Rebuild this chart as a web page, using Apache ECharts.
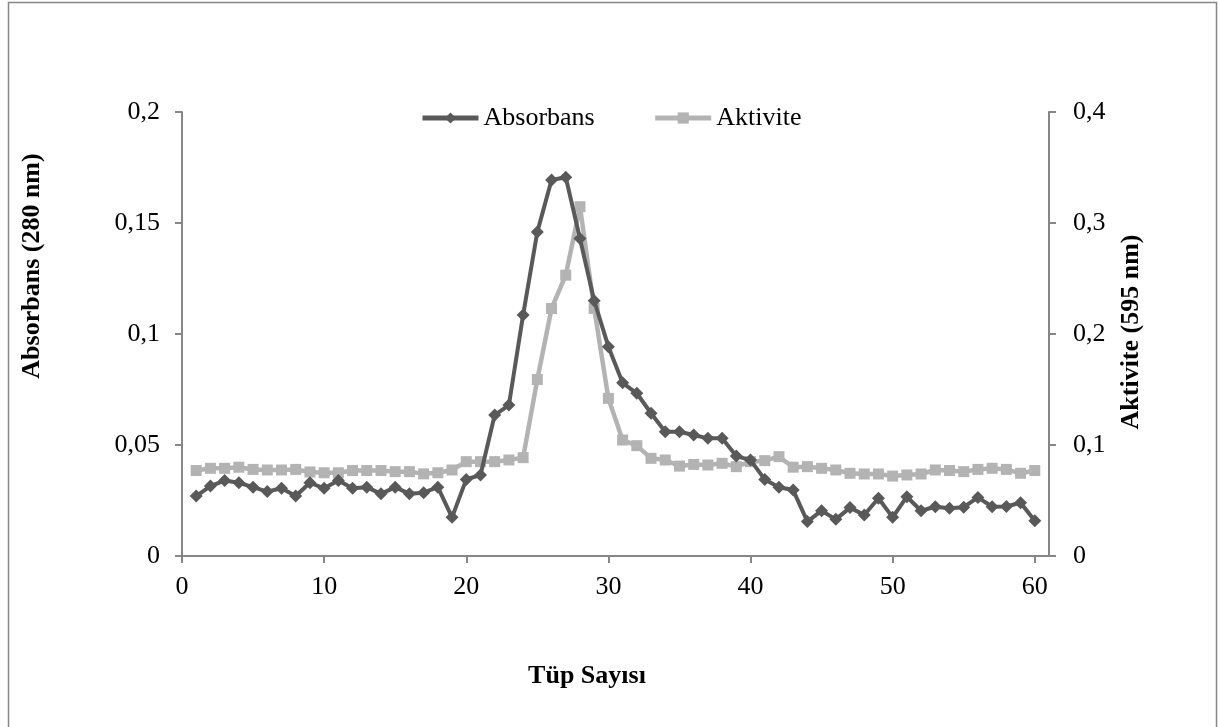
<!DOCTYPE html>
<html>
<head>
<meta charset="utf-8">
<script src="https://cdn.jsdelivr.net/npm/echarts@6/dist/echarts.min.js"></script>
<style>
  html, body { margin: 0; padding: 0; background: #fff; }
  #chart { width: 1219px; height: 727px; }
</style>
</head>
<body>
<div id="chart"></div>
<script>
// tüp numaraları
var tubes = [1, 2, 3, 4, 5, 6, 7, 8, 9, 10,
  11, 12, 13, 14, 15, 16, 17, 18, 19, 20,
  21, 22, 23, 24, 25, 26, 27, 28, 29, 30,
  31, 32, 33, 34, 35, 36, 37, 38, 39, 40,
  41, 42, 43, 44, 45, 46, 47, 48, 49, 50,
  51, 52, 53, 54, 55, 56, 57, 58, 59, 60];

// 280 nm absorbans (sol eksen)
var absorbans = [0.027, 0.0315, 0.034, 0.033, 0.031, 0.029, 0.0305, 0.027, 0.033, 0.0305,
  0.034, 0.0305, 0.031, 0.028, 0.031, 0.028, 0.0285, 0.031, 0.0174, 0.0345,
  0.0365, 0.0635, 0.068, 0.1086, 0.146, 0.1694, 0.1706, 0.143, 0.115, 0.0943,
  0.078, 0.0733, 0.0643, 0.056, 0.056, 0.0545, 0.053, 0.053, 0.045, 0.0432,
  0.0345, 0.031, 0.0297, 0.0155, 0.0204, 0.0165, 0.0218, 0.0185, 0.026, 0.0174,
  0.0267, 0.0204, 0.0222, 0.0215, 0.022, 0.0264, 0.0222, 0.0223, 0.024, 0.0159];

// 595 nm aktivite (sağ eksen)
var aktivite = [0.077, 0.079, 0.079, 0.08, 0.078, 0.0775, 0.0775, 0.078, 0.0757, 0.075,
  0.075, 0.077, 0.077, 0.077, 0.076, 0.076, 0.074, 0.075, 0.0775, 0.085,
  0.085, 0.085, 0.0865, 0.0886, 0.159, 0.223, 0.253, 0.3147, 0.223, 0.142,
  0.1045, 0.0994, 0.088, 0.0865, 0.081, 0.0825, 0.082, 0.0835, 0.0805, 0.085,
  0.0859, 0.0895, 0.08, 0.0805, 0.079, 0.0775, 0.0745, 0.0739, 0.0739, 0.072,
  0.073, 0.0739, 0.0775, 0.077, 0.076, 0.078, 0.079, 0.078, 0.0745, 0.077];

var xTicks = [0, 10, 20, 30, 40, 50, 60];

var FONT = '"Liberation Serif", "Times New Roman", serif';
var AXIS_GREY = '#868686';
var DARK = '#595959';
var LIGHT = '#B3B3B3';

function pairs(vals) {
  return tubes.map(function (t, i) { return [t, vals[i]]; });
}
function comma(v) {
  return String(+v.toFixed(4)).replace('.', ',');
}

var chart = echarts.init(document.getElementById('chart'), null, { renderer: 'canvas' });

var option = {
  backgroundColor: '#fff',
  animation: false,
  grid: { left: 182, right: 170, top: 112, bottom: 171, containLabel: false },
  legend: {
    left: 415,
    top: 100,
    itemWidth: 56,
    itemHeight: 14,
    itemGap: 58,
    textStyle: { fontFamily: FONT, fontSize: 26, color: '#000' },
    data: [
      { name: 'Absorbans', lineStyle: { width: 5, color: DARK } },
      { name: 'Aktivite', lineStyle: { width: 5, color: LIGHT } }
    ]
  },
  xAxis: {
    type: 'value',
    min: 0,
    max: 61,
    interval: 10,
    splitLine: { show: false },
    axisLine: { lineStyle: { color: AXIS_GREY, width: 2 } },
    axisTick: { show: true, length: 7, customValues: xTicks, lineStyle: { color: AXIS_GREY, width: 2 } },
    axisLabel: {
      customValues: xTicks,
      margin: 18,
      fontFamily: FONT, fontSize: 26, color: '#000'
    }
  },
  yAxis: [
    {
      type: 'value',
      min: 0,
      max: 0.2,
      interval: 0.05,
      position: 'left',
      splitLine: { show: false },
      axisLine: { show: true, lineStyle: { color: AXIS_GREY, width: 2 } },
      axisTick: { show: true, length: 7, lineStyle: { color: AXIS_GREY, width: 2 } },
      axisLabel: { margin: 22, fontFamily: FONT, fontSize: 26, color: '#000', formatter: comma }
    },
    {
      type: 'value',
      min: 0,
      max: 0.4,
      interval: 0.1,
      position: 'right',
      splitLine: { show: false },
      axisLine: { show: true, lineStyle: { color: AXIS_GREY, width: 2 } },
      axisTick: { show: true, length: 7, lineStyle: { color: AXIS_GREY, width: 2 } },
      axisLabel: { margin: 24, fontFamily: FONT, fontSize: 26, color: '#000', formatter: comma }
    }
  ],
  series: [
    {
      name: 'Absorbans',
      type: 'line',
      yAxisIndex: 0,
      data: pairs(absorbans),
      symbol: 'diamond',
      symbolSize: 13,
      lineStyle: { color: DARK, width: 4 },
      itemStyle: { color: DARK },
      z: 3
    },
    {
      name: 'Aktivite',
      type: 'line',
      yAxisIndex: 1,
      data: pairs(aktivite),
      symbol: 'rect',
      symbolSize: 11,
      lineStyle: { color: LIGHT, width: 4.5 },
      itemStyle: { color: LIGHT },
      z: 2
    }
  ],
  graphic: [
    // dış çerçeve
    {
      type: 'rect',
      shape: { x: 8.5, y: 2.5, width: 1208, height: 740 },
      style: { fill: 'none', stroke: AXIS_GREY, lineWidth: 1.5 },
      silent: true
    },
    {
      type: 'text',
      x: 32, y: 266,
      rotation: Math.PI / 2,
      style: {
        text: 'Absorbans (280 nm)',
        font: 'bold 26px ' + FONT,
        fill: '#000',
        align: 'center',
        verticalAlign: 'middle'
      }
    },
    {
      type: 'text',
      x: 1131, y: 332,
      rotation: Math.PI / 2,
      style: {
        text: 'Aktivite (595 nm)',
        font: 'bold 26px ' + FONT,
        fill: '#000',
        align: 'center',
        verticalAlign: 'middle'
      }
    },
    {
      type: 'text',
      x: 587, y: 676,
      style: {
        text: 'Tüp Sayısı',
        font: 'bold 26px ' + FONT,
        fill: '#000',
        align: 'center',
        verticalAlign: 'middle'
      }
    }
  ]
};

option && chart.setOption(option);
</script>
</body>
</html>
